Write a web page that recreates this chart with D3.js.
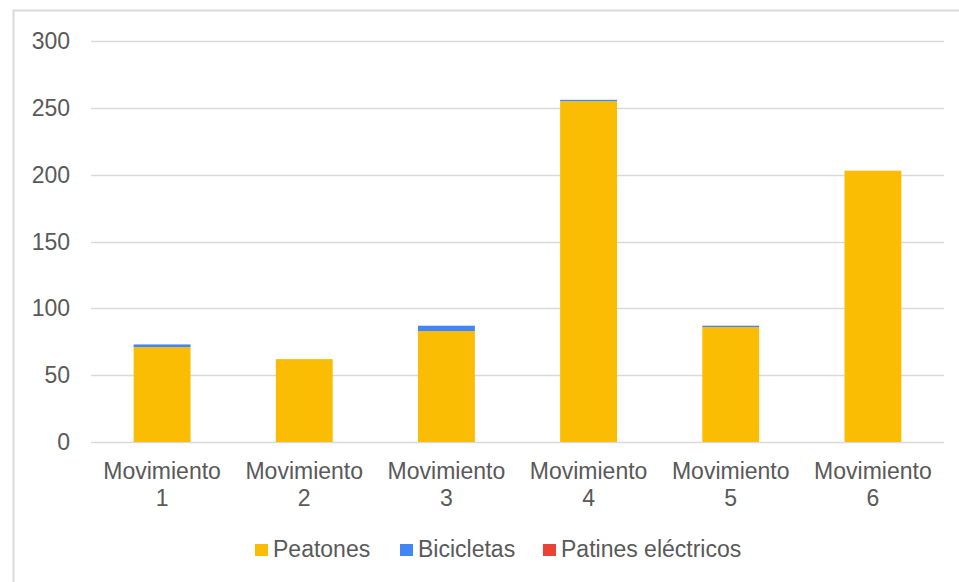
<!DOCTYPE html>
<html>
<head>
<meta charset="utf-8">
<script src="https://cdn.jsdelivr.net/npm/d3@7"></script>
<style>
  body { margin: 0; background: #fff; }
  svg { display: block; font-family: "Liberation Sans", Arial, sans-serif; }
</style>
</head>
<body>
<svg id="chart" width="959" height="582"></svg>
<script>
// categories and series
const categories = ["Movimiento 1", "Movimiento 2", "Movimiento 3", "Movimiento 4", "Movimiento 5", "Movimiento 6"];
const peatones = [71, 62, 83, 255, 86, 203];
const bicicletas = [2, 0, 4, 1, 1, 0];
const patines = [0, 0, 0, 0, 0, 0];
const seriesNames = ["Peatones", "Bicicletas", "Patines eléctricos"];
const seriesColors = ["#fbbc04", "#4285f4", "#ea4335"];
const yTicks = [0, 50, 100, 150, 200, 250, 300];

const width = 959, height = 582;
const margin = { left: 91, right: 15, top: 41, bottom: 140 };

const svg = d3.select("#chart");

// outer chart border (only top and left visible in the picture)
svg.append("rect")
    .attr("x", 13.5).attr("y", 10.5)
    .attr("width", 960).attr("height", 600)
    .attr("fill", "none")
    .attr("stroke", "#d9d9d9")
    .attr("stroke-width", 2);

const x = d3.scaleBand()
    .domain(categories)
    .range([margin.left, width - margin.right])
    .paddingInner(0.6)
    .paddingOuter(0.3);

const y = d3.scaleLinear()
    .domain([0, 300])
    .range([height - margin.bottom, margin.top]);

// gridlines
svg.append("g")
    .selectAll("line")
    .data(yTicks)
    .join("line")
    .attr("x1", margin.left)
    .attr("x2", width - margin.right)
    .attr("y1", d => Math.round(y(d)) + 0.5)
    .attr("y2", d => Math.round(y(d)) + 0.5)
    .attr("stroke", "#d9d9d9")
    .attr("stroke-width", 1.5);

// y axis labels
svg.append("g")
    .selectAll("text")
    .data(yTicks)
    .join("text")
    .attr("x", 70)
    .attr("y", d => y(d))
    .attr("dy", "0.35em")
    .attr("text-anchor", "end")
    .attr("font-size", 23)
    .attr("fill", "#595959")
    .text(d => d);

// stacked bars
const table = categories.map((c, i) => ({
    cat: c, Peatones: peatones[i], Bicicletas: bicicletas[i], "Patines eléctricos": patines[i]
}));
const stacked = d3.stack().keys(seriesNames)(table);

svg.append("g")
    .selectAll("g")
    .data(stacked)
    .join("g")
    .attr("fill", (d, i) => seriesColors[i])
    .selectAll("rect")
    .data(d => d)
    .join("rect")
    .attr("x", d => x(d.data.cat))
    .attr("width", x.bandwidth())
    .attr("y", d => y(d[1]))
    .attr("height", d => y(d[0]) - y(d[1]));

// x labels, two lines each
const xl = svg.append("g")
    .selectAll("text")
    .data(categories)
    .join("text")
    .attr("x", d => x(d) + x.bandwidth() / 2)
    .attr("y", 479)
    .attr("text-anchor", "middle")
    .attr("font-size", 23)
    .attr("fill", "#595959");
xl.append("tspan").text(d => d.split(" ")[0]);
xl.append("tspan")
    .attr("x", d => x(d) + x.bandwidth() / 2)
    .attr("dy", 27)
    .text(d => d.split(" ")[1]);

// legend
const legendX = [255, 400, 543];
const lg = svg.append("g")
    .selectAll("g")
    .data(seriesNames)
    .join("g")
    .attr("transform", (d, i) => `translate(${legendX[i]},544)`);
lg.append("rect")
    .attr("width", 13).attr("height", 12)
    .attr("fill", (d, i) => seriesColors[i]);
lg.append("text")
    .attr("x", 18)
    .attr("y", 13)
    .attr("font-size", 23)
    .attr("fill", "#595959")
    .text(d => d);
</script>
</body>
</html>
